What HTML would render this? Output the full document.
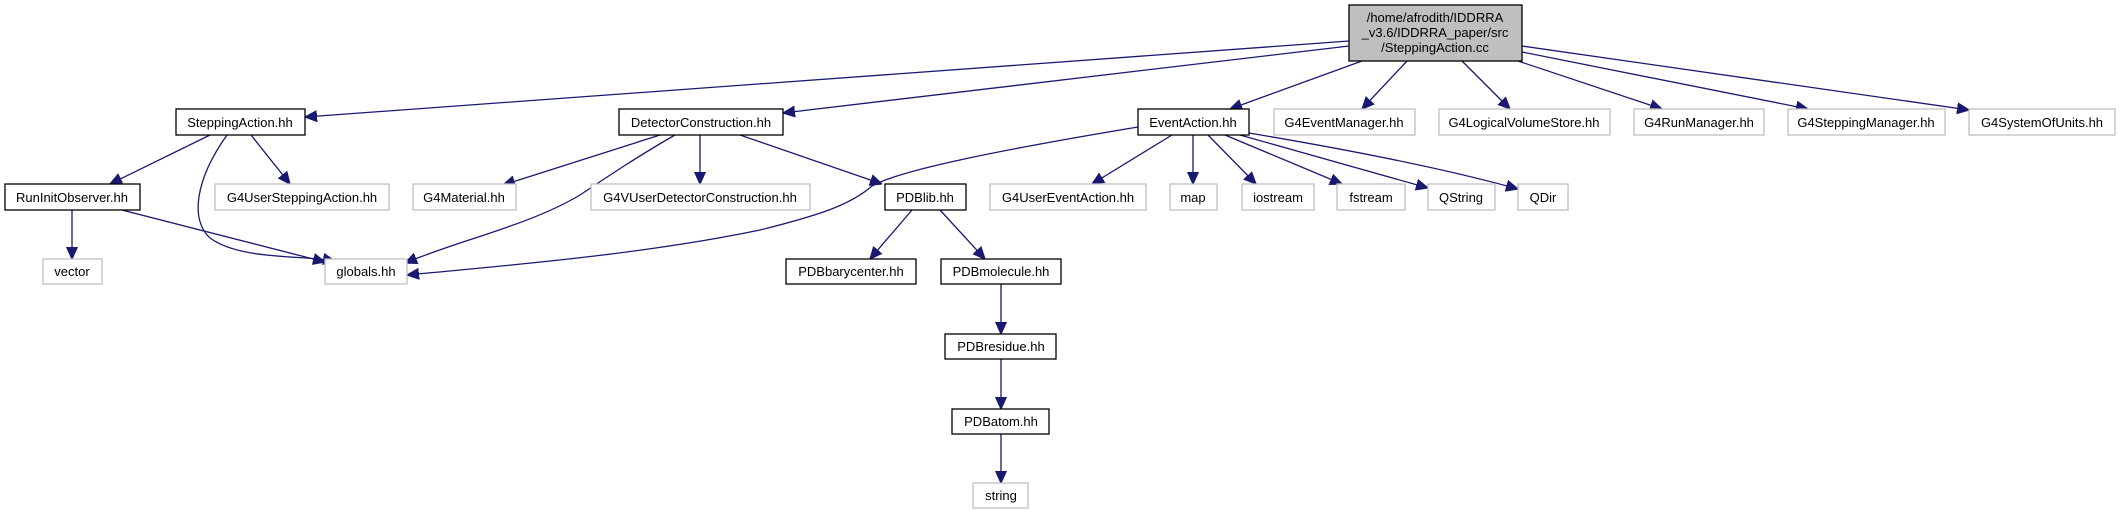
<!DOCTYPE html>
<html><head><meta charset="utf-8"><style>
html,body{margin:0;padding:0;background:#fff;}
svg{display:block;}
text{font-family:"Liberation Sans",sans-serif;font-size:13px;fill:#000;text-anchor:middle;}
.b{fill:#fff;stroke:#000;stroke-width:1.3;}
.g{fill:#fff;stroke:#bfbfbf;stroke-width:1.3;}
.e{fill:none;stroke:#191970;stroke-width:1.3;}
</style></head><body>
<svg width="2127" height="515" viewBox="0 0 2127 515" xmlns="http://www.w3.org/2000/svg">
<defs><marker id="a" viewBox="0 0 10 10" refX="10" refY="5" markerWidth="12" markerHeight="12" markerUnits="userSpaceOnUse" orient="auto"><path d="M0,0.5 L10,5 L0,9.5 z" fill="#191970" stroke="#191970"/></marker></defs>
<g marker-end="url(#a)">
<path class="e" d="M1349,41 L305,117"/>
<path class="e" d="M1349,46 L783,113"/>
<path class="e" d="M1362,61 L1230,109"/>
<path class="e" d="M1407,61 L1362,109"/>
<path class="e" d="M1462,61 L1510,109"/>
<path class="e" d="M1518,61 L1662,109"/>
<path class="e" d="M1522,52 L1808,109"/>
<path class="e" d="M1522,46 L1969,110"/>
<path class="e" d="M210,135 L110,184"/>
<path class="e" d="M227,135 C195,180 190,220 210,238 C240,260 300,255 335,261"/>
<path class="e" d="M251,135 L290,184"/>
<path class="e" d="M72,210 L72,259"/>
<path class="e" d="M122,210 L325,262"/>
<path class="e" d="M660,135 L503,185"/>
<path class="e" d="M675,135 C640,155 610,175 580,195 C530,225 460,240 405,263"/>
<path class="e" d="M700,135 L700,184"/>
<path class="e" d="M740,135 L882,184"/>
<path class="e" d="M1138,127 C1000,150 900,170 872,186 C850,205 820,215 760,230 C640,255 500,266 407,275"/>
<path class="e" d="M1172,135 L1092,184"/>
<path class="e" d="M1193,135 L1193,184"/>
<path class="e" d="M1208,135 L1256,184"/>
<path class="e" d="M1225,135 L1342,184"/>
<path class="e" d="M1240,135 L1428,188"/>
<path class="e" d="M1249,133 C1350,150 1450,170 1518,189"/>
<path class="e" d="M912,210 L870,259"/>
<path class="e" d="M940,210 L985,259"/>
<path class="e" d="M1001,284 L1001,334"/>
<path class="e" d="M1001,359 L1001,409"/>
<path class="e" d="M1001,434 L1001,483"/>
</g>
<rect x="1349" y="5" width="173" height="56" fill="#bfbfbf" stroke="#000" stroke-width="1.3"/>
<text x="1435" y="22">/home/afrodith/IDDRRA</text>
<text x="1435" y="37">_v3.6/IDDRRA_paper/src</text>
<text x="1435" y="52">/SteppingAction.cc</text>
<rect class="b" x="176" y="109" width="129" height="26"/><text x="240" y="127">SteppingAction.hh</text>
<rect class="b" x="619" y="109" width="164" height="26"/><text x="701" y="127">DetectorConstruction.hh</text>
<rect class="b" x="1138" y="109" width="111" height="26"/><text x="1193" y="127">EventAction.hh</text>
<rect class="g" x="1274" y="109" width="141" height="26"/><text x="1344" y="127">G4EventManager.hh</text>
<rect class="g" x="1439" y="109" width="171" height="26"/><text x="1524" y="127">G4LogicalVolumeStore.hh</text>
<rect class="g" x="1634" y="109" width="130" height="26"/><text x="1699" y="127">G4RunManager.hh</text>
<rect class="g" x="1788" y="109" width="157" height="26"/><text x="1866" y="127">G4SteppingManager.hh</text>
<rect class="g" x="1969" y="109" width="146" height="26"/><text x="2042" y="127">G4SystemOfUnits.hh</text>
<rect class="b" x="5" y="184" width="135" height="26"/><text x="72" y="202">RunInitObserver.hh</text>
<rect class="g" x="215" y="184" width="174" height="26"/><text x="302" y="202">G4UserSteppingAction.hh</text>
<rect class="g" x="413" y="184" width="103" height="26"/><text x="464" y="202">G4Material.hh</text>
<rect class="g" x="591" y="184" width="219" height="26"/><text x="700" y="202">G4VUserDetectorConstruction.hh</text>
<rect class="b" x="885" y="184" width="81" height="26"/><text x="925" y="202">PDBlib.hh</text>
<rect class="g" x="990" y="184" width="156" height="26"/><text x="1068" y="202">G4UserEventAction.hh</text>
<rect class="g" x="1170" y="184" width="47" height="26"/><text x="1193" y="202">map</text>
<rect class="g" x="1242" y="184" width="72" height="26"/><text x="1278" y="202">iostream</text>
<rect class="g" x="1337" y="184" width="68" height="26"/><text x="1371" y="202">fstream</text>
<rect class="g" x="1428" y="184" width="67" height="26"/><text x="1461" y="202">QString</text>
<rect class="g" x="1518" y="184" width="50" height="26"/><text x="1543" y="202">QDir</text>
<rect class="g" x="43" y="259" width="59" height="25"/><text x="72" y="276">vector</text>
<rect class="g" x="325" y="259" width="82" height="25"/><text x="366" y="276">globals.hh</text>
<rect class="b" x="786" y="259" width="130" height="25"/><text x="851" y="276">PDBbarycenter.hh</text>
<rect class="b" x="941" y="259" width="120" height="25"/><text x="1001" y="276">PDBmolecule.hh</text>
<rect class="b" x="945" y="334" width="111" height="25"/><text x="1001" y="351">PDBresidue.hh</text>
<rect class="b" x="952" y="409" width="97" height="25"/><text x="1001" y="426">PDBatom.hh</text>
<rect class="g" x="973" y="483" width="55" height="25"/><text x="1001" y="500">string</text>
</svg>
</body></html>
